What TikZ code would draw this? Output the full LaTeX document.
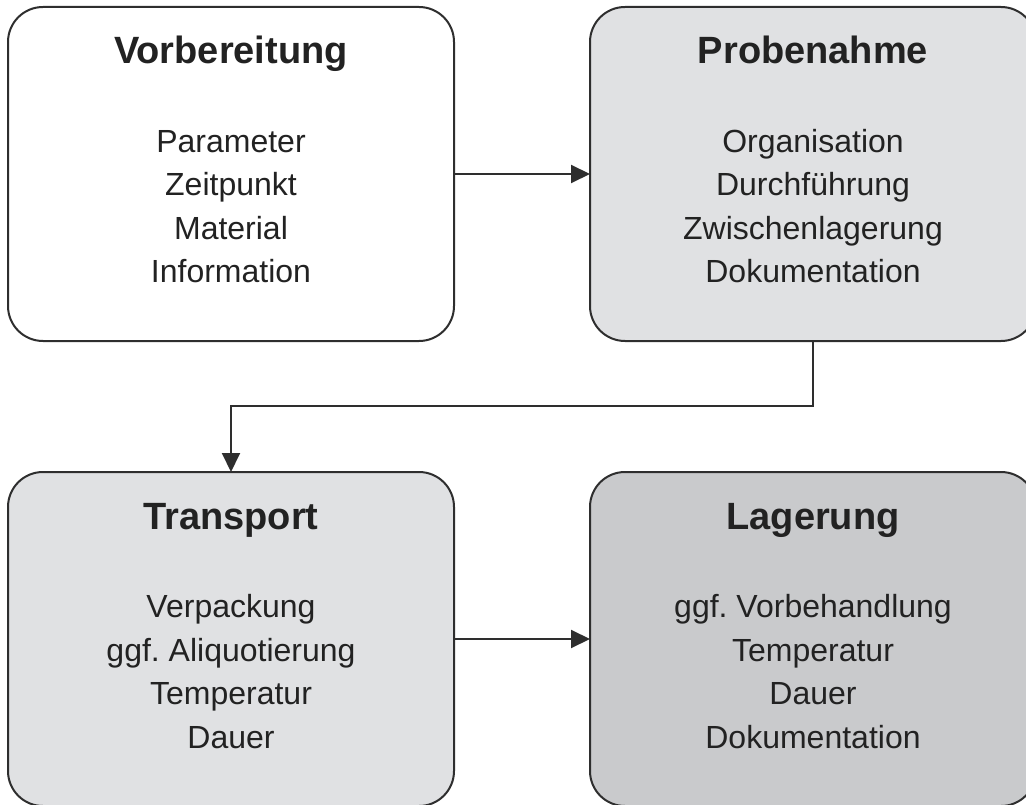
\documentclass[tikz,border=0pt]{standalone}
\usepackage{fontspec}
\setmainfont{Liberation Sans}
\usetikzlibrary{arrows.meta}
\frenchspacing

\definecolor{boxline}{HTML}{2E2E2E}
\definecolor{lightgrey}{HTML}{E0E1E3}
\definecolor{midgrey}{HTML}{C9CACC}
\definecolor{textdark}{HTML}{222222}

\tikzset{
  stage/.style={draw=boxline, line width=2pt, rounded corners=35pt,
    minimum width=446pt, minimum height=334pt, inner sep=0pt, outer sep=0pt},
  stagetitle/.style={anchor=base, text=textdark,
    font=\fontsize{38}{46}\selectfont\bfseries},
  stageitem/.style={anchor=base, text=textdark,
    font=\fontsize{32}{40}\selectfont},
  flow/.style={draw=boxline, line width=2pt, -{Triangle[length=19pt,width=18pt]}},
}

\begin{document}
\begin{tikzpicture}[x=1pt,y=1pt]
  \useasboundingbox (0,0) rectangle (1026,-805);

  \node[stage, fill=white] (Vorb) at (231,-174) {};
  \node[stage, fill=lightgrey] (Probe) at (813,-174) {};
  \node[stage, fill=lightgrey] (Trans) at (231,-639) {};
  \node[stage, fill=midgrey] (Lager) at (813,-639) {};

  \node[stagetitle] (VorbT) at ([yshift=-57pt]Vorb.north) {Vorbereitung};
  \node[stagetitle] (ProbeT) at ([yshift=-57pt]Probe.north) {Probenahme};
  \node[stagetitle] (TransT) at ([yshift=-57pt]Trans.north) {Transport};
  \node[stagetitle] (LagerT) at ([yshift=-57pt]Lager.north) {Lagerung};

  \foreach \txt [count=\i] in {Parameter,Zeitpunkt,Material,Information}
    \node[stageitem] (Vorb-\i) at ([yshift={-145.5-43.5*(\i-1)}]Vorb.north) {\txt};
  \foreach \txt [count=\i] in {Organisation,Durchführung,Zwischenlagerung,Dokumentation}
    \node[stageitem] (Probe-\i) at ([yshift={-145.5-43.5*(\i-1)}]Probe.north) {\txt};
  \foreach \txt [count=\i] in {Verpackung,ggf. Aliquotierung,Temperatur,Dauer}
    \node[stageitem] (Trans-\i) at ([yshift={-145.5-43.5*(\i-1)}]Trans.north) {\txt};
  \foreach \txt [count=\i] in {ggf. Vorbehandlung,Temperatur,Dauer,Dokumentation}
    \node[stageitem] (Lager-\i) at ([yshift={-145.5-43.5*(\i-1)}]Lager.north) {\txt};

  \draw[flow] (Vorb) -- (Probe);
  \draw[flow] (Probe.south) -- ++(0,-65) -| (Trans.north);
  \draw[flow] (Trans) -- (Lager);

\end{tikzpicture}
\end{document}
